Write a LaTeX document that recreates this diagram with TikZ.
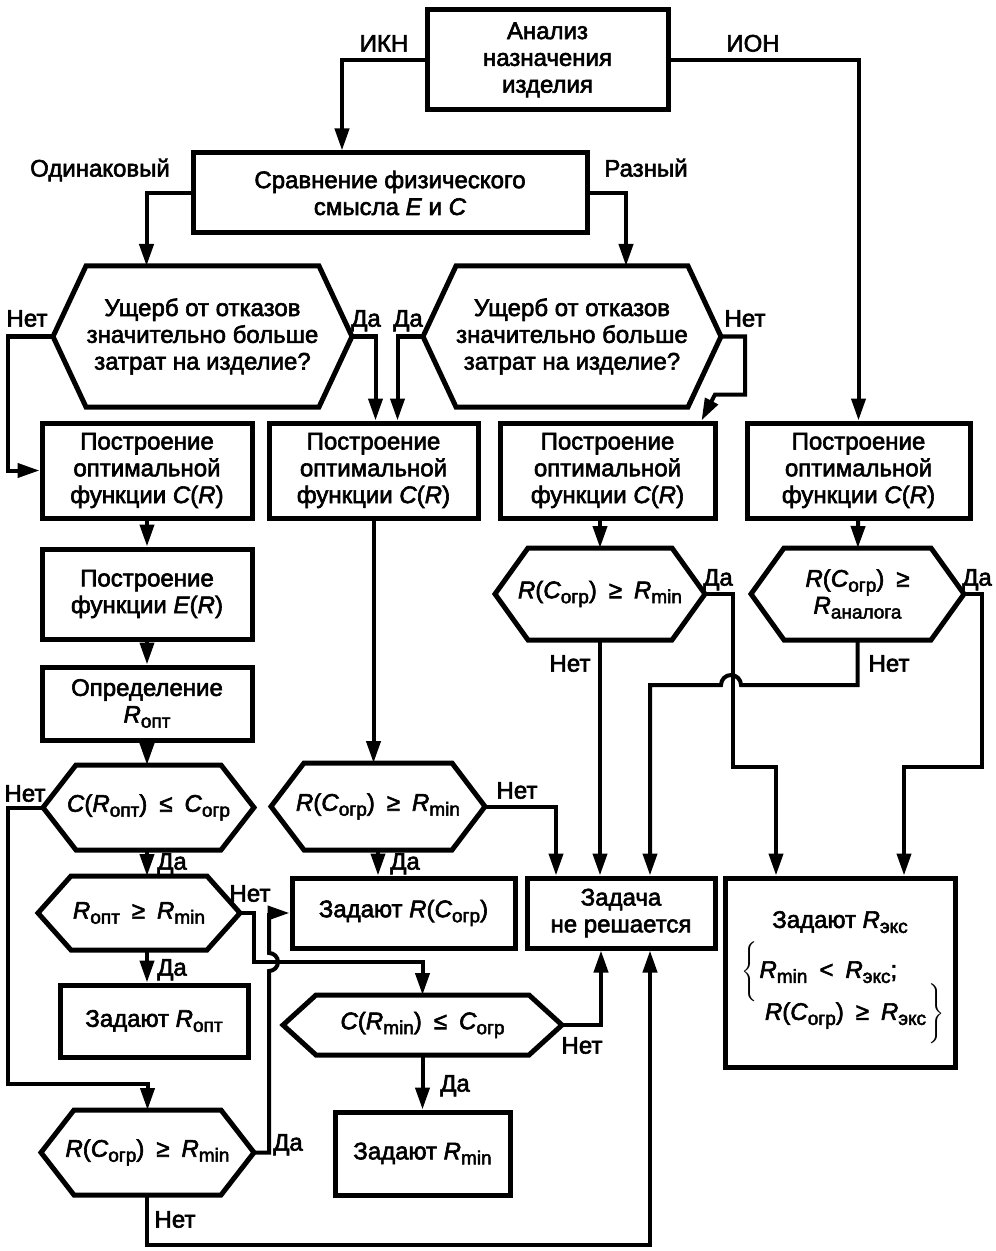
\documentclass[tikz,border=0pt]{standalone}
\usepackage{fontspec}
\setmainfont{Liberation Sans}[FakeBold=2.5]
\usetikzlibrary{arrows.meta}
\newcommand\vr[1]{\textit{#1}}
\newcommand\sub[1]{\raisebox{-2.5pt}{\fontsize{9.5}{9.5}\selectfont#1}}
\newcommand\brL{\smash{$\left\{\vcenter{\hbox{\rule{0pt}{28pt}}}\right.$}}
\newcommand\brR{\smash{$\left.\vcenter{\hbox{\rule{0pt}{28pt}}}\right\}$}}
\newcommand\hexa[1]{\draw[hexline](#1.west)--([xshift=16.5pt]#1.north west)--([xshift=-16.5pt]#1.north east)
  --(#1.east)--([xshift=-16.5pt]#1.south east)--([xshift=16.5pt]#1.south west)--cycle;}

\begin{document}
\begin{tikzpicture}[x=0.5pt,y=-0.5pt,line width=2pt,
        >={Triangle[length=11pt,width=7pt]},
        every node/.style={inner sep=0pt,align=center,font=\fontsize{12}{13.4}\selectfont},
        box/.style={draw,line width=2.5pt},
        hexline/.style={line width=2.5pt},
        lbl/.style={text height=8.6pt,text depth=0pt}]
       \useasboundingbox (0,0) rectangle (995,1251);
       \node[box,minimum width=120.5pt,minimum height=50pt](anal)at(547.5,60){Анализ\\назначения\\изделия};
       \node[box,minimum width=197pt,minimum height=40pt](cmp)at(390,193){Сравнение физического\\смысла \vr{E} и \vr{C}};
       \node[minimum width=147.5pt,minimum height=68.5pt](dmgA)at(202.5,336.5){Ущерб от отказов\\значительно больше\\затрат на изделие?};
       \node[minimum width=147pt,minimum height=68.5pt](dmgB)at(572,336.5){Ущерб от отказов\\значительно больше\\затрат на изделие?};
       \hexa{dmgA}\hexa{dmgB}
       \node[box,minimum width=105pt,minimum height=47.5pt](cA)at(147,470.5){Построение\\оптимальной\\функции \vr{C}(\vr{R})};
       \node[box,minimum width=104.5pt,minimum height=47.5pt](cB)at(373.5,470.5){Построение\\оптимальной\\функции \vr{C}(\vr{R})};
       \node[box,minimum width=107.5pt,minimum height=47.5pt](cC)at(607.5,470.5){Построение\\оптимальной\\функции \vr{C}(\vr{R})};
       \node[box,minimum width=111.5pt,minimum height=47.5pt](cD)at(858.5,470.5){Построение\\оптимальной\\функции \vr{C}(\vr{R})};
       \node[box,minimum width=105pt,minimum height=45pt](eR)at(147,594){Построение\\функции \vr{E}(\vr{R})};
       \node[box,minimum width=105pt,minimum height=36.5pt](ropt)at(147,703.5){Определение\\\vr{R}\sub{опт}};
       \node[minimum width=103.5pt,minimum height=40.5pt](qA)at(148.5,807.5){\vr{C}(\vr{R}\sub{опт})\enspace≤\enspace\vr{C}\sub{огр}};
       \node[minimum width=99pt,minimum height=35pt](qB)at(139,913){\vr{R}\sub{опт}\enspace≥\enspace\vr{R}\sub{min}};
       \node[box,minimum width=94pt,minimum height=36pt](setopt)at(154,1021){Задают \vr{R}\sub{опт}};
       \node[minimum width=104.5pt,minimum height=40.5pt](qC)at(147.5,1152.5){\vr{R}(\vr{C}\sub{огр})\enspace≥\enspace\vr{R}\sub{min}};
       \node[minimum width=105pt,minimum height=41.5pt](qD)at(378,806.5){\vr{R}(\vr{C}\sub{огр})\enspace≥\enspace\vr{R}\sub{min}};
       \node[box,minimum width=111.5pt,minimum height=35pt](setrc)at(403.5,913){Задают \vr{R}(\vr{C}\sub{огр})};
       \node[minimum width=137.5pt,minimum height=28pt](qE)at(422.5,1025){\vr{C}(\vr{R}\sub{min})\enspace≤\enspace\vr{C}\sub{огр}};
       \node[box,minimum width=87.5pt,minimum height=41.5pt](setmin)at(422.5,1153.5){Задают \vr{R}\sub{min}};
       \node[box,minimum width=94pt,minimum height=35pt](fail)at(621,913){Задача\\не решается};
       \node[minimum width=103pt,minimum height=44pt](qF)at(600,594){\vr{R}(\vr{C}\sub{огр})\enspace≥\enspace\vr{R}\sub{min}};
       \node[minimum width=104.5pt,minimum height=44pt](qG)at(857.5,594){\vr{R}(\vr{C}\sub{огр})\enspace≥\\\vr{R}\sub{аналога}};
       \hexa{qA}\hexa{qB}\hexa{qC}\hexa{qD}\hexa{qE}\hexa{qF}\hexa{qG}
       \node[box,minimum width=115pt,minimum height=94.5pt](setexp)at(840,972.5){Задают \vr{R}\sub{экс}\\[11.6pt]
        \makebox[95pt][l]{\hspace{-2pt}\brL\vr{R}\sub{min}\enspace<\enspace\vr{R}\sub{экс};}\\[7.6pt]
        \makebox[95pt][l]{\hspace{10pt}\vr{R}(\vr{C}\sub{огр})\enspace≥\enspace\vr{R}\sub{экс}\brR}\rule[-7pt]{0pt}{1pt}};
       \node[lbl](tIKN)at(384,43){ИКН};
       \node[lbl](tION)at(753,43){ИОН};
       \node[lbl](tSame)at(100,168){Одинаковый};
       \node[lbl](tDiff)at(646,168){Разный};
       \node[lbl](tA1)at(27,318){Нет};
       \node[lbl](tA2)at(366,318){Да};
       \node[lbl](tB1)at(408,318){Да};
       \node[lbl](tB2)at(745,318){Нет};
       \node[lbl](tF1)at(718,577){Да};
       \node[lbl](tG1)at(977,577){Да};
       \node[lbl](tF2)at(570,663){Нет};
       \node[lbl](tG2)at(889,663){Нет};
       \node[lbl](tQA1)at(25,793){Нет};
       \node[lbl](tQD1)at(517,790){Нет};
       \node[lbl](tQA2)at(172,861){Да};
       \node[lbl](tQD2)at(405,861){Да};
       \node[lbl](tQB1)at(250,893){Нет};
       \node[lbl](tQB2)at(172,967){Да};
       \node[lbl](tQE1)at(582,1045){Нет};
       \node[lbl](tQE2)at(455,1083){Да};
       \node[lbl](tQC1)at(288,1142){Да};
       \node[lbl](tQC2)at(175,1219){Нет};
       \draw[->](anal.west)-|([xshift=-24pt]cmp.north);
       \draw[->](anal.east)-|(cD.north);
       \draw[->](cmp.west)-|([xshift=-28pt]dmgA.north);
       \draw[->](cmp.east)-|([xshift=27pt]dmgB.north);
       \draw[->](dmgA.west)--++(-45,0)|-(cA.west);
       \draw[->](dmgA.east)-|([xshift=1pt]cB.north);
       \draw[->](dmgB.west)-|([xshift=12pt]cB.north);
       \draw[->](dmgB.east)--++(24,0)--++(0,58)--++(-30,0)--([xshift=47pt]cC.north);
       \draw[->](cA)--(eR);
       \draw[->](eR)--(ropt);
       \draw[->](ropt.south)--(ropt.south|-qA.north);
       \draw[->](qA.south-|eR)--(qB.north-|eR);
       \draw[->](qB.south-|eR)--(setopt.north-|eR);
       \draw[->](qA.west)--++(-35,0)--++(0,276)-|(qC.north);
       \draw[->](qB.east)--++(14,0)--++(0,49)-|(qE.north);
       \draw[->](qC.east)--++(15,0)--++(0,-181.5)arc[start angle=-90,end angle=90,radius=4.5pt]|-(setrc.west);
       \draw[->](qC.south-|eR)--++(0,50)-|([xshift=14.5pt]fail.south);
       \draw[->](cB.south)--(cB.south|-qD.north);
       \draw[->](qD.south)--(qD.south|-setrc.north);
       \draw[->](qD.east)-|([xshift=-32.5pt]fail.north);
       \draw[->](qE)--(setmin);
       \draw[->](qE.east)-|([xshift=-10pt]fail.south);
       \draw[->](cC.south-|qF.north)--(qF.north);
       \draw[->](qF.south)--(fail.north-|qF.south);
       \draw[->](qF.east)--++(28,0)--++(0,173)-|([xshift=-32pt]setexp.north);
       \draw[->](cD)--(qG);
       \draw[->](qG.east)--++(18,0)--++(0,173)-|([xshift=32pt]setexp.north);
       \draw[->](qG.south)--++(0,45)--++(-116.5,0)arc[start angle=0,end angle=180,radius=5pt]-|([xshift=14.5pt]fail.north);
    \end{tikzpicture}
\end{document}
